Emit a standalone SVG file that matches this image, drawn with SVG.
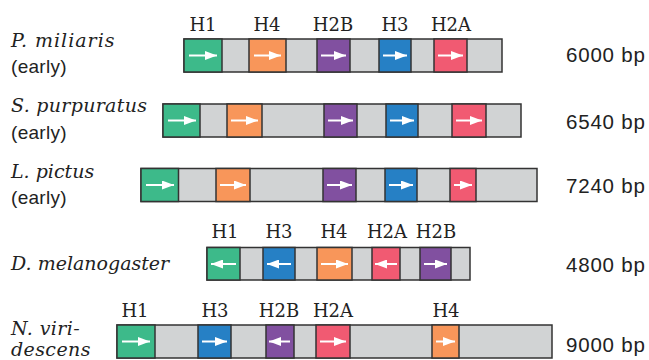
<svg xmlns="http://www.w3.org/2000/svg" width="649" height="360" viewBox="0 0 649 360">
<style>
.bg{fill:#ffffff}
.bar{fill:#d1d3d4;stroke:#333;stroke-width:1.5}
.g{stroke:#333;stroke-width:1.5}
.h1{fill:#3dba8a}.h4{fill:#f8965a}.h2b{fill:#8150a0}.h3{fill:#2680c5}.h2a{fill:#f15a72}
.ar{stroke:#fff;stroke-width:2;fill:none;marker-end:url(#ah)}
.sp{font-family:"DejaVu Serif","Liberation Serif",serif;font-style:italic;font-size:19px;fill:#222}
.ea{font-family:"Liberation Sans",Arial,sans-serif;font-size:19px;fill:#222;letter-spacing:0.3px}
.lb{font-family:"DejaVu Serif","Liberation Serif",serif;font-size:18px;fill:#222;text-anchor:middle}
.bp{font-family:"Liberation Sans",Arial,sans-serif;font-size:20.5px;fill:#222;letter-spacing:0.8px}
</style>
<defs>
<marker id="ah" markerWidth="12" markerHeight="9" refX="12" refY="4.5" orient="auto" markerUnits="userSpaceOnUse"><path d="M0,0 L12,4.5 L0,9 z" fill="#fff"/></marker>
</defs>
<rect class="bg" x="0" y="0" width="649" height="360"/>

<g id="p-miliaris">
<text class="sp" x="11" y="47" letter-spacing="1">P. miliaris</text>
<text class="ea" x="11" y="73">(early)</text>
<text class="lb" x="203" y="31">H1</text>
<text class="lb" x="267" y="31">H4</text>
<text class="lb" x="333" y="31">H2B</text>
<text class="lb" x="395" y="31">H3</text>
<text class="lb" x="451" y="31">H2A</text>
<rect class="bar" x="184" y="39" width="318" height="33"/>
<rect class="g h1" x="184" y="39" width="38" height="33"/>
<rect class="g h4" x="249" y="39" width="37" height="33"/>
<rect class="g h2b" x="317" y="39" width="33" height="33"/>
<rect class="g h3" x="379" y="39" width="32" height="33"/>
<rect class="g h2a" x="434" y="39" width="33" height="33"/>
<path class="ar" d="M189 55.5H217"/>
<path class="ar" d="M254 55.5H281"/>
<path class="ar" d="M321 55.5H346"/>
<path class="ar" d="M383 55.5H407"/>
<path class="ar" d="M438 55.5H463"/>
<text class="bp" x="566" y="62">6000 bp</text>
</g>

<g id="s-purpuratus">
<text class="sp" x="11" y="112" letter-spacing="0.3">S. purpuratus</text>
<text class="ea" x="11" y="139">(early)</text>
<rect class="bar" x="163" y="104" width="358" height="33"/>
<rect class="g h1" x="163" y="104" width="37" height="33"/>
<rect class="g h4" x="227" y="104" width="35" height="33"/>
<rect class="g h2b" x="324" y="104" width="33" height="33"/>
<rect class="g h3" x="386" y="104" width="32" height="33"/>
<rect class="g h2a" x="452" y="104" width="34" height="33"/>
<path class="ar" d="M168 120.5H196"/>
<path class="ar" d="M231 120.5H258"/>
<path class="ar" d="M328 120.5H353"/>
<path class="ar" d="M390 120.5H414"/>
<path class="ar" d="M456 120.5H482"/>
<text class="bp" x="566" y="129">6540 bp</text>
</g>

<g id="l-pictus">
<text class="sp" x="11" y="178">L. pictus</text>
<text class="ea" x="11" y="204">(early)</text>
<rect class="bar" x="141" y="168.5" width="396" height="33"/>
<rect class="g h1" x="141" y="168.5" width="37.5" height="33"/>
<rect class="g h4" x="216" y="168.5" width="34" height="33"/>
<rect class="g h2b" x="323" y="168.5" width="33" height="33"/>
<rect class="g h3" x="385" y="168.5" width="32" height="33"/>
<rect class="g h2a" x="450" y="168.5" width="26" height="33"/>
<path class="ar" d="M146 185H174"/>
<path class="ar" d="M220 185H246"/>
<path class="ar" d="M327 185H352"/>
<path class="ar" d="M389 185H413"/>
<path class="ar" d="M454 185H472"/>
<text class="bp" x="566" y="193">7240 bp</text>
</g>

<g id="d-melanogaster">
<text class="sp" x="11" y="270">D. melanogaster</text>
<text class="lb" x="225" y="238">H1</text>
<text class="lb" x="279" y="238">H3</text>
<text class="lb" x="334" y="238">H4</text>
<text class="lb" x="387" y="238">H2A</text>
<text class="lb" x="436" y="238">H2B</text>
<rect class="bar" x="207" y="247.5" width="263" height="32.5"/>
<rect class="g h1" x="207" y="247.5" width="33" height="32.5"/>
<rect class="g h3" x="263" y="247.5" width="32" height="32.5"/>
<rect class="g h4" x="317" y="247.5" width="35" height="32.5"/>
<rect class="g h2a" x="372" y="247.5" width="28" height="32.5"/>
<rect class="g h2b" x="420" y="247.5" width="31" height="32.5"/>
<path class="ar" d="M236 264H211"/>
<path class="ar" d="M291 264H267"/>
<path class="ar" d="M321 264H348"/>
<path class="ar" d="M397 264H375"/>
<path class="ar" d="M424 264H447"/>
<text class="bp" x="566" y="272">4800 bp</text>
</g>

<g id="n-viridescens">
<text class="sp" x="11" y="335" letter-spacing="0.4">N. viri-</text>
<text class="sp" x="11" y="356" letter-spacing="0.4">descens</text>
<text class="lb" x="135" y="317">H1</text>
<text class="lb" x="215" y="317">H3</text>
<text class="lb" x="279" y="317">H2B</text>
<text class="lb" x="333" y="317">H2A</text>
<text class="lb" x="446" y="317">H4</text>
<rect class="bar" x="117" y="325" width="435" height="33"/>
<rect class="g h1" x="117" y="325" width="38" height="33"/>
<rect class="g h3" x="198" y="325" width="33" height="33"/>
<rect class="g h2b" x="266" y="325" width="28" height="33"/>
<rect class="g h2a" x="316" y="325" width="34" height="33"/>
<rect class="g h4" x="432" y="325" width="27" height="33"/>
<path class="ar" d="M122 341.5H150"/>
<path class="ar" d="M202 341.5H227"/>
<path class="ar" d="M290 341.5H269"/>
<path class="ar" d="M320 341.5H346"/>
<path class="ar" d="M436 341.5H455"/>
<text class="bp" x="566" y="352">9000 bp</text>
</g>
</svg>
